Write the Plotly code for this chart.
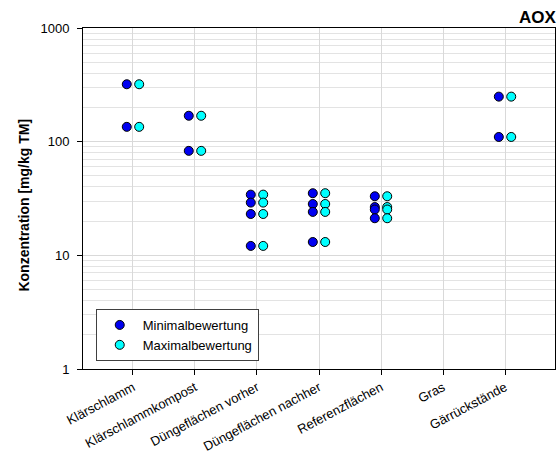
import plotly.graph_objects as go

# Sample categories along the x axis
categories = ["Klärschlamm", "Klärschlammkompost", "Düngeflächen vorher",
              "Düngeflächen nachher", "Referenzflächen", "Gras", "Gärrückstände"]

# AOX concentrations [mg/kg TM] per category
min_values = [
    [320, 135],
    [169, 83],
    [34.2, 29.1, 23.1, 12.1],
    [35.2, 28.3, 24.1, 13.1],
    [33.1, 26.6, 25.3, 21.2],
    [],
    [249, 110],
]
max_values = [
    [320, 135],
    [169, 83],
    [34.2, 29.1, 23.1, 12.1],
    [35.2, 28.3, 24.1, 13.1],
    [33.1, 26.6, 25.3, 21.2],
    [],
    [249, 110],
]

y_tick_values = [1, 10, 100, 1000]
y_tick_labels = ["1", "10", "100", "1000"]

series_names = ["Minimalbewertung", "Maximalbewertung"]
series_colors = ["#0000f0", "#00ffff"]
series_offsets = [-0.1, 0.1]

FONT = "Liberation Sans, Arial, sans-serif"

fig = go.Figure()
for name, color, offset, data in zip(series_names, series_colors, series_offsets,
                                     [min_values, max_values]):
    xs, ys = [], []
    for i, vals in enumerate(data):
        for v in vals:
            xs.append(i + offset)
            ys.append(v)
    fig.add_trace(go.Scatter(
        x=xs, y=ys, mode="markers", name=name,
        marker=dict(size=9, color=color, line=dict(color="#000000", width=1)),
    ))

minor_grid = [m * 10 ** e for e in range(0, 3) for m in range(2, 10)]

fig.update_layout(
    width=559, height=457,
    margin=dict(l=83, r=4, t=28, b=88),
    paper_bgcolor="white", plot_bgcolor="white",
    font=dict(family=FONT, size=13, color="#000000"),
    showlegend=True,
    legend=dict(
        x=0.027, y=0.176, xanchor="left", yanchor="top",
        bordercolor="#404040", borderwidth=1, bgcolor="white",
        font=dict(size=13), tracegroupgap=0, itemwidth=36,
    ),
    xaxis=dict(
        range=[-0.806, 6.806], automargin=False,
        tickvals=list(range(len(categories))), ticktext=categories,
        tickangle=-28, ticks="outside", ticklen=5, tickcolor="#000000",
        showgrid=True, gridcolor="#d9d9d9", gridwidth=1,
        showline=True, linecolor="#000000", linewidth=1, mirror=True,
        zeroline=False, tickfont=dict(size=13),
    ),
    yaxis=dict(
        type="log", range=[0, 3], automargin=False,
        tickvals=y_tick_values, ticktext=y_tick_labels,
        ticks="outside", ticklen=5, tickcolor="#000000", ticklabelstandoff=5,
        showgrid=True, gridcolor="#d9d9d9", gridwidth=1,
        minor=dict(tickvals=minor_grid, showgrid=True, gridcolor="#e3e3e3",
                   gridwidth=1, ticks=""),
        showline=True, linecolor="#000000", linewidth=1, mirror=True,
        zeroline=False, tickfont=dict(size=13),
    ),
    annotations=[
        dict(text="<b>AOX</b>", xref="paper", yref="paper", x=1.0, y=1.0,
             xanchor="right", yanchor="bottom", showarrow=False,
             font=dict(size=17), xshift=4, yshift=-1),
        dict(text="<b>Konzentration [mg/kg TM]</b>", xref="paper", yref="paper",
             x=-0.127, y=0.5, xanchor="center", yanchor="middle",
             textangle=-90, showarrow=False, font=dict(size=14), yshift=-7),
    ],
)

fig.write_html("out.html")
